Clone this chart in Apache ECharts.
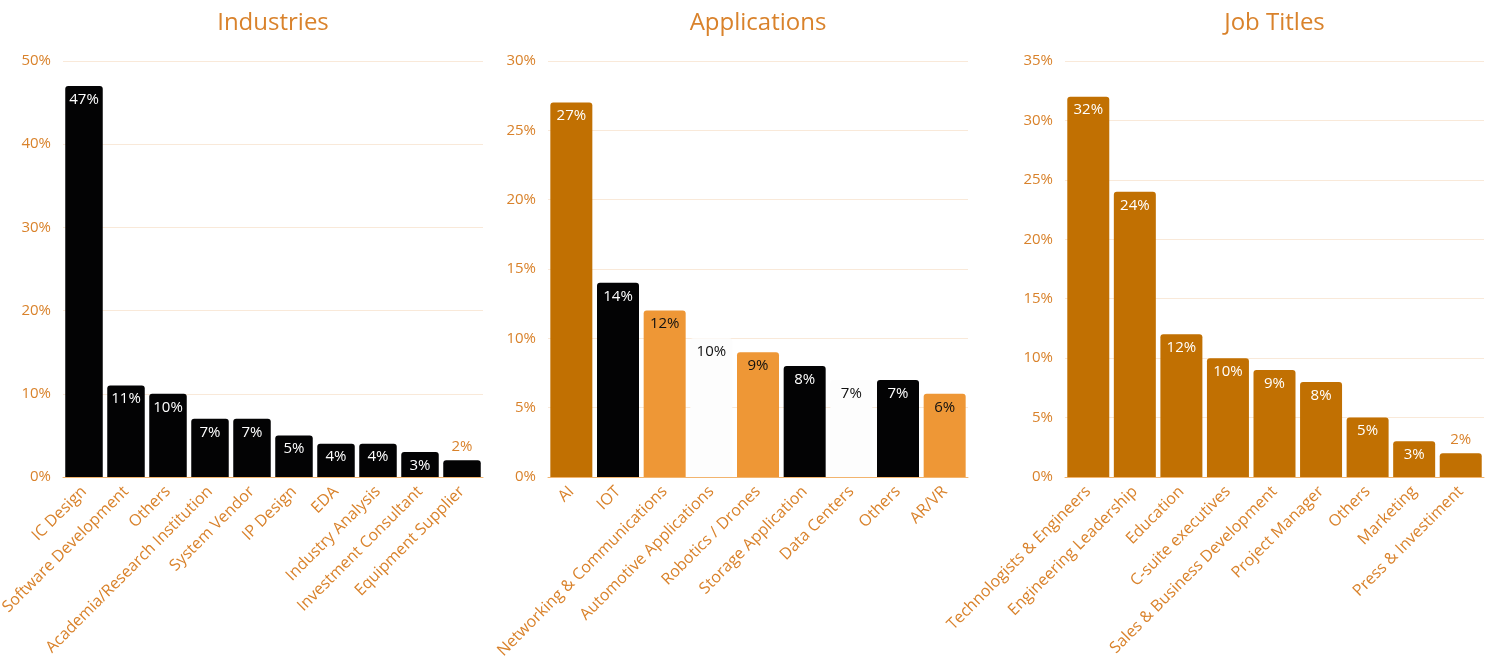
<!DOCTYPE html>
<html>
<head>
<meta http-equiv="content-type" content="text/html; charset=utf-8"/>
<title>Industries / Applications / Job Titles</title>
<style type="text/css">
    html, body { margin: 0; padding: 0; background: #fff; }
    #main { width: 1487px; height: 657px; }
</style>
<script type="text/javascript" src="https://cdn.jsdelivr.net/npm/echarts@6/dist/echarts.min.js"></script>
</head>
<body>
<div id="main"></div>
<script>
    // data
    var industryNames = ['IC Design', 'Software Development', 'Others', 'Academia/Research Institution', 'System Vendor',
        'IP Design', 'EDA', 'Industry Analysis', 'Investment Consultant', 'Equipment Supplier'];
    var industryValues = [47, 11, 10, 7, 7, 5, 4, 4, 3, 2];

    var appNames = ['AI', 'IOT', 'Networking & Communications', 'Automotive Applications', 'Robotics / Drones',
        'Storage Application', 'Data Centers', 'Others', 'AR/VR'];
    var appValues = [27, 14, 12, 10, 9, 8, 7, 7, 6];

    var jobNames = ['Technologists & Engineers', 'Engineering Leadership', 'Education', 'C-suite executives',
        'Sales & Business Development', 'Project Manager', 'Others', 'Marketing', 'Press & Investiment'];
    var jobValues = [32, 24, 12, 10, 9, 8, 5, 3, 2];

    var chartTitles = ['Industries', 'Applications', 'Job Titles'];
    var yMax = [50, 30, 35];
    var yStep = [10, 5, 5];

    // colours
    var BLACK = '#030304', DARK = '#c17002', LIGHT = '#ee9736', WHITE = '#fdfdfd';
    var ORANGE_TEXT = '#d9822b';
    var industryColors = industryValues.map(function () { return BLACK; });
    var appColors = [DARK, BLACK, LIGHT, WHITE, LIGHT, BLACK, WHITE, BLACK, LIGHT];
    var jobColors = jobValues.map(function () { return DARK; });

    var FONT = 'Open Sans';

    // fixed plot boxes, labels may run to the page edge
    var grids = [
        { left: 63, width: 420, top: 61, bottom: 180, outerBoundsMode: 'none' },
        { left: 548, width: 420, top: 61, bottom: 180, outerBoundsMode: 'none' },
        { left: 1065, width: 419, top: 61, bottom: 180, outerBoundsMode: 'none' }
    ];
    var gaps = ['10.7%', '10%', '9.8%'];

    function isDark(c) { return c === BLACK || c === DARK; }

    // build a data item, label inside the bar unless the bar is too short
    function items(values, colors) {
        return values.map(function (v, i) {
            var small = v < 3;
            return {
                value: v,
                itemStyle: { color: colors[i] },
                label: {
                    position: small ? 'top' : 'insideTop',
                    color: small ? ORANGE_TEXT : (isDark(colors[i]) ? '#ffffff' : '#111111')
                }
            };
        });
    }

    var names = [industryNames, appNames, jobNames];
    var series = [
        items(industryValues, industryColors),
        items(appValues, appColors),
        items(jobValues, jobColors)
    ];

    var option = {
        animation: false,
        textStyle: { fontFamily: FONT },
        title: grids.map(function (g, i) {
            return {
                text: chartTitles[i],
                left: g.left + g.width / 2 - 5,
                textAlign: 'center',
                top: 6,
                textStyle: { color: ORANGE_TEXT, fontSize: 24, fontWeight: 'normal', fontFamily: FONT }
            };
        }),
        grid: grids,
        xAxis: names.map(function (n, i) {
            return {
                type: 'category',
                gridIndex: i,
                data: n,
                axisTick: { show: false },
                axisLine: { show: true, lineStyle: { color: '#f2b46e', width: 1 } },
                axisLabel: {
                    interval: 0,
                    rotate: 45,
                    margin: 12,
                    color: ORANGE_TEXT,
                    fontSize: 16,
                    fontFamily: FONT
                }
            };
        }),
        yAxis: names.map(function (n, i) {
            return {
                type: 'value',
                gridIndex: i,
                min: 0,
                max: yMax[i],
                interval: yStep[i],
                axisLine: { show: false },
                axisTick: { show: false },
                splitLine: { lineStyle: { color: '#f9e9d9', width: 1 } },
                axisLabel: {
                    formatter: '{value}%',
                    margin: 12,
                    color: ORANGE_TEXT,
                    fontSize: 15,
                    fontFamily: FONT
                }
            };
        }),
        series: series.map(function (d, i) {
            return {
                type: 'bar',
                xAxisIndex: i,
                yAxisIndex: i,
                data: d,
                barCategoryGap: gaps[i],
                itemStyle: { borderRadius: [3, 3, 0, 0] },
                label: {
                    show: true,
                    formatter: '{c}%',
                    fontSize: 15,
                    distance: 6,
                    fontFamily: FONT
                }
            };
        })
    };

    var chart = echarts.init(document.getElementById('main'));
    chart.setOption(option);
</script>
</body>
</html>
